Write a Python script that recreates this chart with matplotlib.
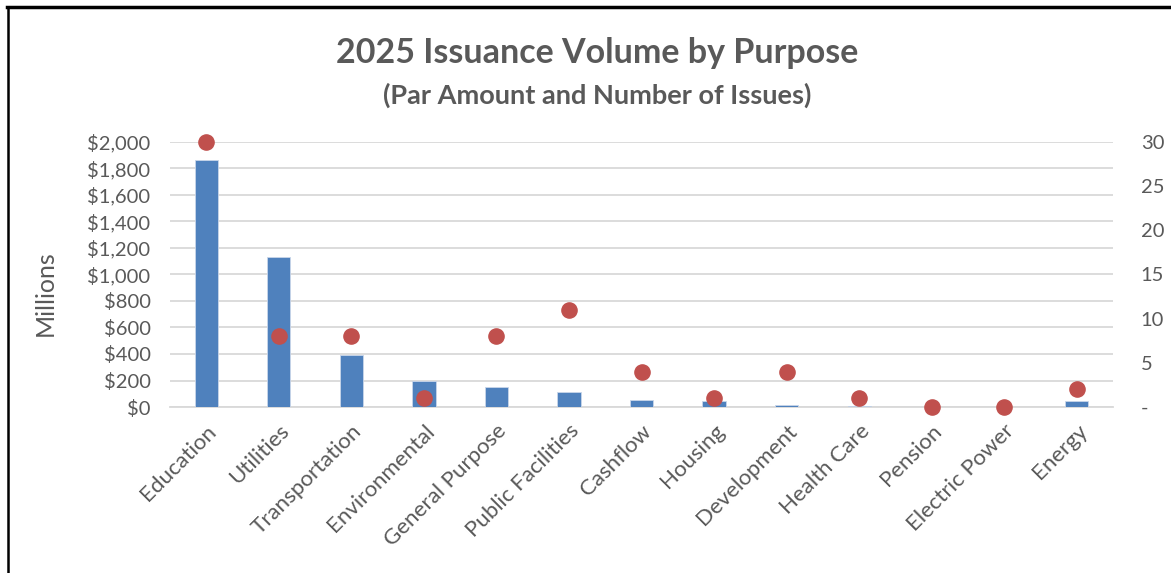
import matplotlib.pyplot as plt
from matplotlib.lines import Line2D
from matplotlib.ticker import FuncFormatter

plt.rcParams['font.family'] = ['Lato', 'DejaVu Sans']

# 2025 issuance by purpose
purposes = ['Education', 'Utilities', 'Transportation', 'Environmental', 'General Purpose',
            'Public Facilities', 'Cashflow', 'Housing', 'Development', 'Health Care',
            'Pension', 'Electric Power', 'Energy']
par_millions = [1864, 1132, 392, 196, 149, 111, 53, 45, 17, 10, 0, 0, 45]
num_issues = [30, 8, 8, 1, 8, 11, 4, 1, 4, 1, 0, 0, 2]

text_col = '#595959'
bar_col = '#4F81BD'
dot_col = '#C0504D'
grid_col = '#D9D9D9'

fig = plt.figure(figsize=(11.71, 5.73), dpi=100)
ax = fig.add_axes([0.1452, 0.2897, 0.8053, 0.4625])
ax2 = ax.twinx()

x = range(len(purposes))
ax.bar(x, par_millions, width=0.32, color=bar_col, edgecolor='#C9D6EA', linewidth=0.6, zorder=3)
ax2.scatter(x, num_issues, s=120, color=dot_col, zorder=4, clip_on=False)

ax.set_xlim(-0.5, len(purposes) - 0.5)
ax.set_ylim(0, 2000)
ax.set_yticks(range(0, 2001, 200))
ax.yaxis.set_major_formatter(FuncFormatter(lambda v, p: f'${v:,.0f}'))
ax2.set_ylim(0, 30)
ax2.set_yticks(range(0, 31, 5))
ax2.yaxis.set_major_formatter(FuncFormatter(lambda v, p: '-' if v == 0 else f'{v:.0f}'))

ax.yaxis.grid(True, color=grid_col, linewidth=1.3, zorder=0)
ax.set_axisbelow(True)
for a in (ax, ax2):
    for s in a.spines.values():
        s.set_visible(False)
    a.tick_params(length=0, colors=text_col, labelsize=14.5)
ax.spines['bottom'].set_visible(True)
ax.spines['bottom'].set_color(grid_col)
ax.spines['bottom'].set_linewidth(1.3)

ax.tick_params(axis='y', pad=14)
ax2.tick_params(axis='y', pad=20)
ax.set_xticks(list(x))
ax.set_xticklabels(purposes, rotation=45, ha='right', rotation_mode='anchor', fontsize=16)
ax.tick_params(axis='x', pad=10)

fig.text(45 / 1171, 0.4887, 'Millions', rotation=90, ha='center', va='center',
         color=text_col, fontsize=18)

fig.text(0.51, 0.908, '2025 Issuance Volume by Purpose', ha='center', va='center',
         fontsize=24.5, fontweight='bold', color=text_col)
fig.text(0.51, 0.834, '(Par Amount and Number of Issues)', ha='center', va='center',
         fontsize=19.5, fontweight='bold', color=text_col)

# frame lines at top and left edge
fig.add_artist(Line2D([0.006, 1.0], [0.9878, 0.9878], color='black', linewidth=2.5, transform=fig.transFigure))
fig.add_artist(Line2D([0.0068, 0.0068], [0.0, 0.9878], color='black', linewidth=1.8, transform=fig.transFigure))

plt.savefig('out.png', dpi=100)
